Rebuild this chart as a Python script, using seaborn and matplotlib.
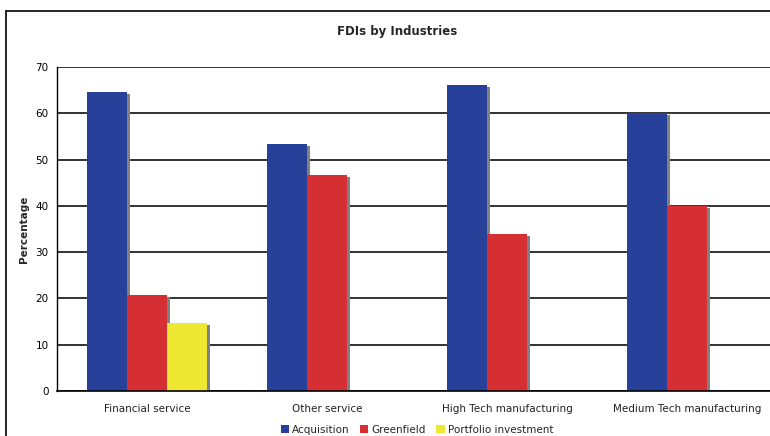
import matplotlib
matplotlib.use("Agg")
import matplotlib.pyplot as plt
from matplotlib.patches import Rectangle, Patch
from matplotlib.lines import Line2D
from matplotlib.transforms import ScaledTranslation
import seaborn as sns
import pandas as pd
import numpy as np

categories = ["Financial service", "Other service", "High Tech manufacturing", "Medium Tech manufacturing"]
series = ["Acquisition", "Greenfield", "Portfolio investment"]
acquisition = [64.6, 53.3, 66.1, 60.0]
greenfield = [20.8, 46.7, 33.9, 40.0]
portfolio = [14.6, np.nan, np.nan, np.nan]
colors = ["#27409A", "#D62F33", "#EEE832"]
yticks = [0, 10, 20, 30, 40, 50, 60, 70]

rows = []
for name, vals in zip(series, [acquisition, greenfield, portfolio]):
    for cat, v in zip(categories, vals):
        if not np.isnan(v):
            rows.append({"Industry": cat, "Type": name, "Percentage": v})
df = pd.DataFrame(rows)

sns.set_style("white")
plt.rcParams["font.family"] = ["DejaVu Sans"]

fig = plt.figure(figsize=(7.7, 4.36), dpi=100)
ax = fig.add_axes([57 / 770, 1 - 391 / 436, 720 / 770, 324 / 436])

sns.barplot(data=df, x="Industry", y="Percentage", hue="Type",
            order=categories, hue_order=series, palette=colors,
            width=0.667, gap=0, saturation=1, linewidth=0,
            dodge=True, ax=ax, legend=False, zorder=3)

# drop shadows: grey copies of each bar, shifted right and down
shift = ax.transData + ScaledTranslation(3 / 100, -2 / 100, fig.dpi_scale_trans)
for p in list(ax.patches):
    h = p.get_height()
    if np.isfinite(h) and h > 0:
        ax.add_patch(Rectangle(p.get_xy(), p.get_width(), h, transform=shift,
                               facecolor="#808080", edgecolor="none",
                               zorder=2.5, clip_on=True))

ax.set_ylim(0, 70)
ax.set_yticks(yticks)
ax.set_xlim(-0.5, 3.5)
ax.yaxis.grid(True, color="#333333", linewidth=1.4, zorder=0)
ax.set_axisbelow(True)
for s in ["top", "right"]:
    ax.spines[s].set_visible(False)
ax.spines["left"].set_color("black")
ax.spines["left"].set_linewidth(1)
ax.spines["bottom"].set_color("black")
ax.spines["bottom"].set_linewidth(1.2)
ax.spines["bottom"].set_zorder(4)
ax.tick_params(axis="y", direction="inout", length=6, width=1, labelsize=7.5,
               pad=3, colors="black")
ax.tick_params(axis="x", length=0, labelsize=7.5, pad=9, colors="#222222")
ax.set_xlabel("")
ax.set_ylabel("Percentage", fontsize=7.5, fontweight="bold", labelpad=5)

fig.text(397 / 770, 1 - 31 / 436, "FDIs by Industries", ha="center", va="center",
         fontsize=8.5, fontweight="bold")

handles = [Patch(facecolor=c, edgecolor="none") for c in colors]
fig.legend(handles, series, loc="center", bbox_to_anchor=(417 / 770, 1 - 430 / 436),
           ncol=3, frameon=False, fontsize=7.5, handlelength=0.8, handleheight=0.8,
           handletextpad=0.3, columnspacing=1.0, borderpad=0)

# outer chart frame (left and top edges)
fx, fy = 6.5 / 770, 1 - 11.5 / 436
fig.add_artist(Line2D([fx, fx], [0, fy], transform=fig.transFigure, color="black", lw=1.2))
fig.add_artist(Line2D([fx, 1], [fy, fy], transform=fig.transFigure, color="black", lw=1.2))

fig.savefig("out.png", dpi=100)
